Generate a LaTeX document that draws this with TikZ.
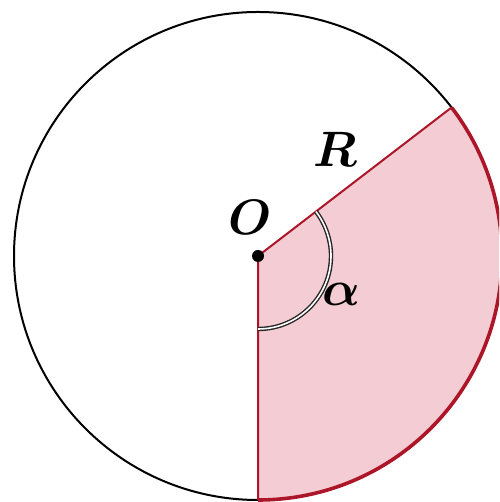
\documentclass[tikz,border=0pt]{standalone}
\usepackage{amsmath,bm}
\definecolor{sectorfill}{RGB}{244,204,212}
\definecolor{sectorline}{RGB}{172,22,40}
\begin{document}
\begin{tikzpicture}[x=0.5pt,y=0.5pt,
  lbl/.style={inner sep=0pt,font=\fontsize{23}{26}\selectfont},
  rim/.style={draw=black,line width=1pt},
  radline/.style={draw=sectorline,line width=1pt},
  arcline/.style={draw=sectorline,line width=1.8pt}]
\useasboundingbox (0,0) rectangle (499,502);
\clip (0,0) rectangle (499,502);
\coordinate (O) at (258,246);
\def\rad{244}
% sector
\fill[sectorfill] (O) -- ++(-90:\rad) arc[start angle=-90,end angle=37.5,radius=\rad] -- cycle;
% whole circle
\draw[rim] (O) circle[radius=\rad];
% radii
\path (O) ++(-90:\rad) coordinate (B);
\path (O) ++(37.5:\rad) coordinate (A);
\draw[radline] (B) -- (O) -- (A);
\draw[arcline] (B) arc[start angle=-90,end angle=37.5,radius=\rad];
% angle mark
\draw[double=white,draw=black!85,line width=0.7pt,double distance=0.8pt]
  (O) ++(-90:73) arc[start angle=-90,end angle=37.5,radius=73];
% point
\fill (O) circle[radius=6];
% labels
\node[lbl] (lo) at (250,285) {$\bm{O}$};
\node[lbl] (lr) at (335,353) {$\bm{R}$};
\node[lbl,font=\fontsize{25}{28}\selectfont] (la) at (341,208) {$\bm{\alpha}$};
\end{tikzpicture}
\end{document}
